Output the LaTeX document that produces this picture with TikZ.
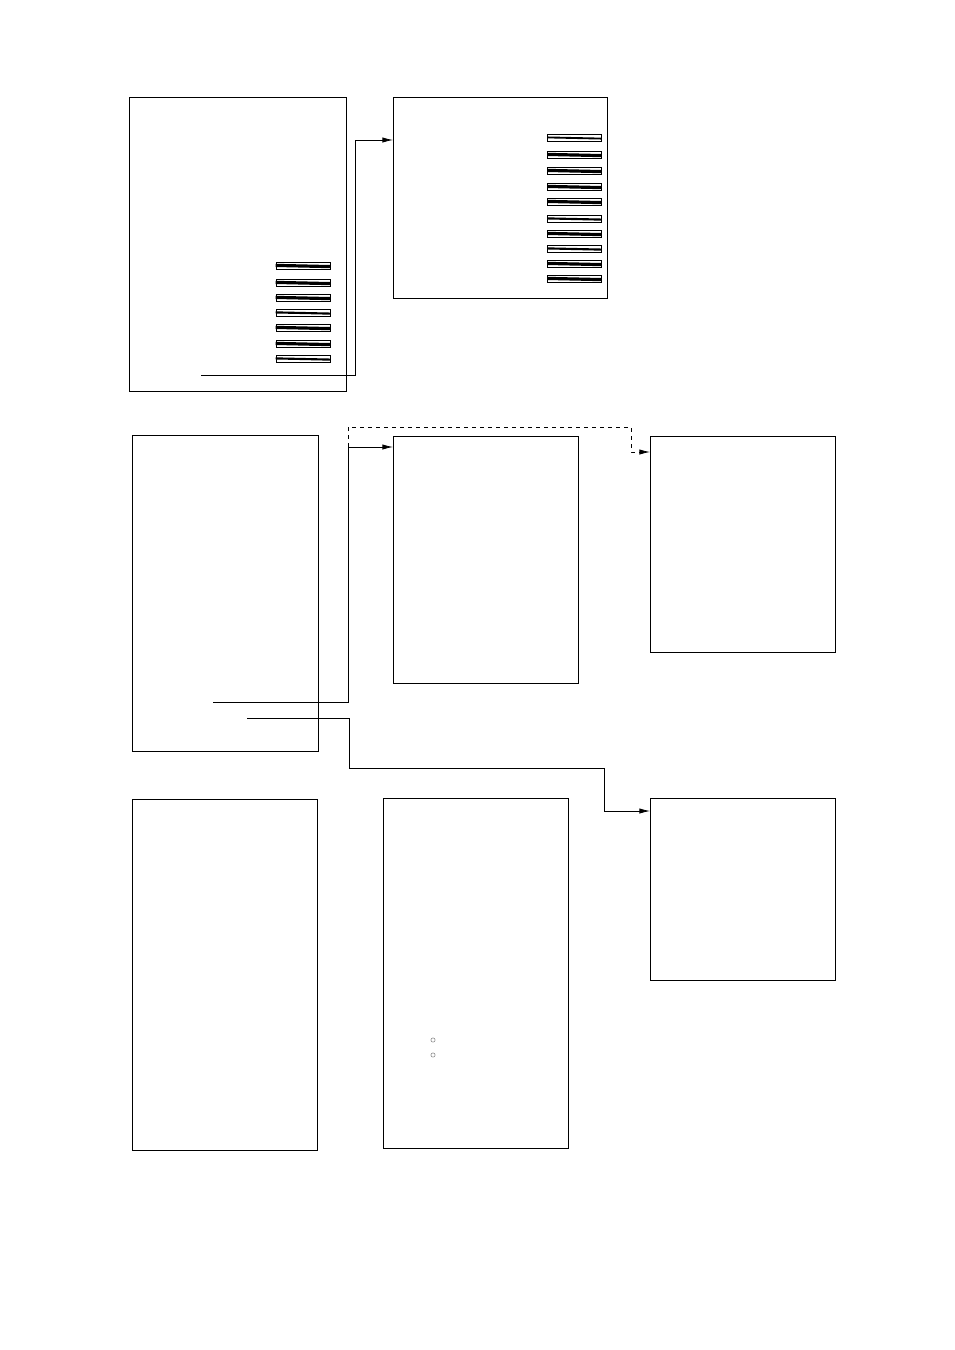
\documentclass[tikz,border=0pt]{standalone}
\usetikzlibrary{arrows.meta}

\tikzset{
  panel/.style={draw, line width=0.6pt, anchor=north west, inner sep=0pt, outer sep=0pt},
  bar/.style={draw, line width=0.6pt, minimum width=40.5pt, minimum height=5.4pt, inner sep=0pt},
  link/.style={line width=0.6pt, -{Latex[length=2.8mm, width=1.4mm]}},
  pin/.style={draw=gray, line width=0.4pt, circle, minimum size=3.2pt, inner sep=0pt}
}

\begin{document}
\begin{tikzpicture}[x=0.75pt, y=-0.75pt]
    \useasboundingbox (0,0) rectangle (954,1350);
    % panels
    \node[panel, minimum width=162.75pt, minimum height=220.5pt]  (A) at (129,97) {};
    \node[panel, minimum width=160.5pt,  minimum height=150.75pt] (B) at (393,97) {};
    \node[panel, minimum width=139.5pt,  minimum height=237pt]    (C) at (132,435) {};
    \node[panel, minimum width=138.75pt, minimum height=185.25pt] (D) at (393,436) {};
    \node[panel, minimum width=138.75pt, minimum height=162pt]    (E) at (650,436) {};
    \node[panel, minimum width=138.75pt, minimum height=263.25pt] (F) at (132,799) {};
    \node[panel, minimum width=138.75pt, minimum height=262.5pt]  (G) at (383,798) {};
    \node[panel, minimum width=138.75pt, minimum height=136.5pt]  (H) at (650,798) {};

    % bars
    \foreach \y/\w in {266/2.4pt, 283/2.4pt, 298/2.4pt, 313/1.6pt, 328/2.4pt, 344/2.4pt, 359/1.6pt} {
      \node[bar] (a-bar-\y) at (303,\y) {};
      \draw[line width=\w] (a-bar-\y.west) ++(0,-0.6) -- (a-bar-\y.east |- 0,\y+0.6);
    }
    \foreach \y/\w in {138/1.4pt, 155/2.4pt, 171/2.4pt, 187/2.4pt, 202/2.4pt, 219/1.6pt, 234/2.4pt, 249/1.6pt, 264/2.4pt, 279/2.4pt} {
      \node[bar] (b-bar-\y) at (574.5,\y) {};
      \draw[line width=\w] (b-bar-\y.west) ++(0,-0.6) -- (b-bar-\y.east |- 0,\y+0.6);
    }

    % small pins
    \node[pin] (p1) at (433,1040) {};
    \node[pin] (p2) at (433,1055) {};

    % connectors
    \coordinate (a-out) at (201,375);
    \coordinate (c-out1) at (213,702);
    \coordinate (c-out2) at (247,718);
    \draw[link] (a-out) -| (355,140) -- (B.west |- 0,140);
    \draw[link] (c-out1) -| (348,447) -- (D.west |- 0,447);
    \draw[link, dashed] (348,447) -- (348,427) -| (631,452) -- (E.west |- 0,452);
    \draw[link] (c-out2) -| (349,768) -| (604,811) -- (H.west |- 0,811);
\end{tikzpicture}
\end{document}
